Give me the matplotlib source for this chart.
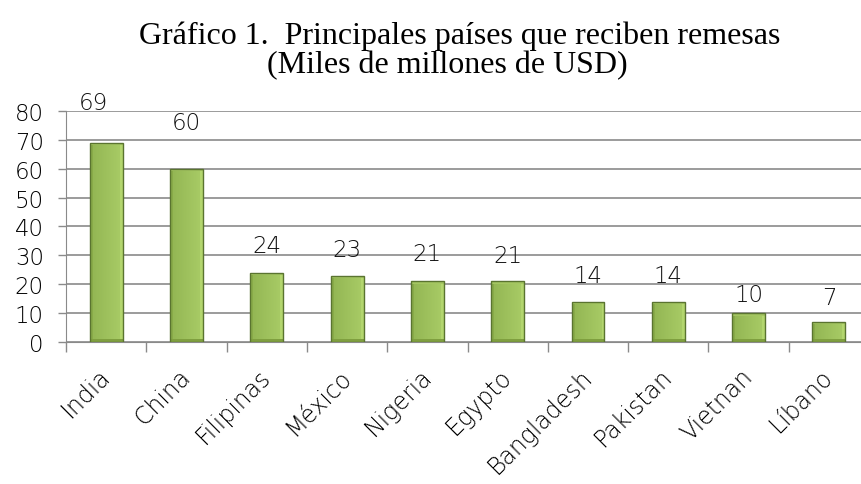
import numpy as np
import matplotlib.pyplot as plt
from matplotlib.ticker import FixedLocator
from matplotlib.colors import to_rgb

paises = ["India", "China", "Filipinas", "México", "Nigeria", "Egypto",
          "Bangladesh", "Pakistan", "Vietnan", "Líbano"]
remesas = [69, 60, 24, 23, 21, 21, 14, 14, 10, 7]
etiquetas = ["69", "60", "24", "23", "21", "21", "14", "14", "10", "7"]

# label placement tweaks (as in the original chart), in data units
label_dy = [14, 16, 9.5, 9, 9.5, 9, 9, 9, 6.5, 8.5]
label_dx = [-0.16, 0, 0, 0, 0, 0, 0, 0, 0, 0]

plt.rcParams["font.family"] = ["DejaVu Sans"]

fig = plt.figure(figsize=(8.62, 4.85), dpi=100)
ax = fig.add_axes([0.0766, 0.2928, 0.9316, 0.4763])

x = np.arange(len(paises))
w = 0.41
bars = ax.bar(x, remesas, width=w, color="none", edgecolor="#5a7430",
              linewidth=1.0, zorder=4)


def bevel_image(nx, ny, frame=3):
    c = lambda h: np.array(to_rgb(h))
    t = np.linspace(0, 1, nx)[None, :, None]
    img = c("#92b553") * (1 - t) + c("#a9cc66") * t
    img = np.repeat(img, ny, axis=0)
    f = min(frame, max(ny // 4, 1))
    img[:, :f] = c("#88aa48")
    img[:, -f:] = c("#b3d66e")
    img[:f, :] = c("#a4c661")
    img[-f:, :] = c("#7f9f3f")
    return img


px_per_unit = 231 / 80
for b in bars:
    x0, bw, h = b.get_x(), b.get_width(), b.get_height()
    ny = max(int(h * px_per_unit), 6)
    im = ax.imshow(bevel_image(33, ny), extent=[x0, x0 + bw, 0, h],
                   aspect="auto", zorder=3, interpolation="nearest")
    im.set_clip_path(b)

for xi, v, t, dy, dx in zip(x, remesas, etiquetas, label_dy, label_dx):
    ax.text(xi + dx, v + dy, t, ha="center", va="center", fontsize=16.5,
            fontweight="light", color="#111111")

ax.set_xlim(-0.5, len(paises) - 0.5)
ax.set_ylim(0, 80)
ax.set_yticks(range(0, 81, 10))
ax.set_yticklabels([str(v) for v in range(0, 81, 10)], fontsize=16.5,
                   fontweight="light")
ax.yaxis.grid(True, color="#8a8a8a", linewidth=1.2, zorder=0)
ax.set_axisbelow(True)

ax.set_xticks(x)
ax.set_xticklabels(paises, rotation=45, ha="right", va="center",
                   rotation_mode="anchor", fontsize=17, fontweight="light")
ax.tick_params(axis="x", length=0, pad=22)
ax.xaxis.set_minor_locator(FixedLocator(np.arange(-0.5, len(paises), 1.0)))
ax.tick_params(axis="x", which="minor", length=7, color="#8a8a8a", width=1)
ax.tick_params(axis="y", length=6, color="#8a8a8a", width=1, pad=10)

for s in ["top", "right"]:
    ax.spines[s].set_visible(False)
for s in ["left", "bottom"]:
    ax.spines[s].set_color("#8a8a8a")

fig.text(0.533, 0.926, "Gráfico 1.  Principales países que reciben remesas",
         ha="center", va="center", fontsize=23, family="Liberation Serif")
fig.text(0.519, 0.864, "(Miles de millones de USD)",
         ha="center", va="center", fontsize=23, family="Liberation Serif")

fig.savefig("out.png", dpi=100)
